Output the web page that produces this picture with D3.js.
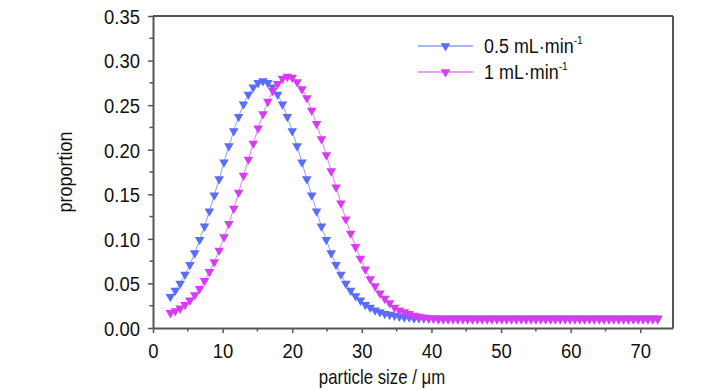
<!DOCTYPE html>
<html><head><meta charset="utf-8">
<script src="https://cdn.jsdelivr.net/npm/d3@7"></script>
<style>
html,body{margin:0;padding:0;background:#fff;}
text{font-family:"Liberation Sans",Arial,sans-serif;fill:#111;}
</style></head><body>
<svg id="c" width="728" height="390"></svg>
<script>
// particle size (µm)
const sizes = [2.5,3.2,3.9,4.6,5.3,6.0,6.7,7.4,8.1,8.8,9.5,10.2,10.9,11.6,12.3,13.0,13.7,14.4,15.1,15.8,
16.5,17.2,17.9,18.6,19.3,20.0,20.7,21.4,22.1,22.8,23.5,24.2,24.9,25.6,26.3,27.0,27.7,28.4,29.1,29.8,
30.5,31.2,31.9,32.6,33.3,34.0,34.7,35.4,36.1,36.8,37.5,38.2,38.9,39.6,40.3,41.0,41.7,42.4,43.1,43.8,
44.5,45.2,45.9,46.6,47.3,48.0,48.7,49.4,50.1,50.8,51.5,52.2,52.9,53.6,54.3,55.0,55.7,56.4,57.1,57.8,
58.5,59.2,59.9,60.6,61.3,62.0,62.7,63.4,64.1,64.8,65.5,66.2,66.9,67.6,68.3,69.0,69.7,70.4,71.1,71.8,72.5];
// 0.5 mL·min-1
const series05 = [0.035,0.042,0.050,0.060,0.071,0.084,0.099,0.114,0.131,0.149,0.167,0.186,0.204,0.221,0.237,0.251,0.262,0.270,0.275,0.277,
0.275,0.270,0.262,0.251,0.237,0.221,0.204,0.186,0.167,0.149,0.131,0.114,0.099,0.084,0.071,0.060,0.050,0.042,0.036,0.031,
0.026,0.023,0.020,0.018,0.016,0.015,0.014,0.013,0.012,0.012,0.011,0.011,0.011,0.011,0.011,0.011,0.011,0.011,0.011,0.011,
0.011,0.011,0.011,0.011,0.011,0.011,0.011,0.011,0.011,0.011,0.011,0.011,0.011,0.011,0.011,0.011,0.011,0.011,0.011,0.011,
0.011,0.011,0.011,0.011,0.011,0.011,0.011,0.011,0.011,0.011,0.011,0.011,0.011,0.011,0.011,0.011,0.011,0.011,0.011,0.011,0.011];
// 1 mL·min-1
const series1 = [0.017,0.019,0.022,0.026,0.031,0.037,0.044,0.053,0.063,0.074,0.087,0.102,0.117,0.134,0.152,0.171,0.189,0.207,0.224,0.240,
0.254,0.266,0.274,0.280,0.282,0.281,0.276,0.268,0.258,0.244,0.229,0.212,0.194,0.176,0.158,0.140,0.122,0.106,0.091,0.078,
0.066,0.055,0.047,0.039,0.033,0.028,0.023,0.020,0.018,0.016,0.014,0.013,0.012,0.011,0.011,0.010,0.010,0.010,0.010,0.010,
0.010,0.010,0.010,0.010,0.010,0.010,0.010,0.010,0.010,0.010,0.010,0.010,0.010,0.010,0.010,0.010,0.010,0.010,0.010,0.010,
0.010,0.010,0.010,0.010,0.010,0.010,0.010,0.010,0.010,0.010,0.010,0.010,0.010,0.010,0.010,0.010,0.010,0.010,0.010,0.010,0.010];
const xTicks = [0,10,20,30,40,50,60,70];
const yTicks = [0,0.05,0.10,0.15,0.20,0.25,0.30,0.35];
const seriesNames = ["0.5 mL·min","1 mL·min"];
const colors = ["#5a6ef4","#d63cf2"];
const lineColors = ["#8e9cf6","#e07cf5"];

const svg = d3.select("#c");
const L=153, T=16, R=673, B=328;
const x = d3.scaleLinear().domain([0,74.7]).range([L,R]);
const y = d3.scaleLinear().domain([0,0.35]).range([B,T]);
const axisCol="#555";

// frame top & right
svg.append("line").attr("x1",L).attr("x2",R).attr("y1",T).attr("y2",T).attr("stroke",axisCol).attr("stroke-width",2.2);
svg.append("line").attr("x1",R).attr("x2",R).attr("y1",T).attr("y2",B).attr("stroke",axisCol).attr("stroke-width",2);

// x axis
const xMinor = d3.range(5,75,10);
const gx = svg.append("g").attr("transform",`translate(0,${B})`);
gx.call(d3.axisBottom(x).tickValues(xTicks).tickSize(5).tickSizeOuter(0).tickFormat(d3.format("d")));
gx.select(".domain").attr("stroke",axisCol).attr("stroke-width",2);
gx.selectAll(".tick line").attr("stroke",axisCol).attr("stroke-width",1.5);
gx.selectAll(".tick text").attr("font-size",20.5).attr("dy",0).attr("y",30).attr("x",0)
  .attr("transform","scale(0.9,1)");
gx.selectAll(".minor").data(xMinor).enter().append("line").attr("class","minor")
  .attr("x1",d=>x(d)).attr("x2",d=>x(d)).attr("y1",0).attr("y2",3.5).attr("stroke",axisCol).attr("stroke-width",1.5);

// y axis
const yMinor = d3.range(0.025,0.35,0.05);
const gy = svg.append("g").attr("transform",`translate(${L},0)`);
gy.call(d3.axisLeft(y).tickValues(yTicks).tickSize(5).tickSizeOuter(0).tickFormat(d3.format(".2f")));
gy.select(".domain").attr("stroke",axisCol).attr("stroke-width",2);
gy.selectAll(".tick line").attr("stroke",axisCol).attr("stroke-width",1.5);
gy.selectAll(".tick text").attr("font-size",20.5).attr("x",-13/0.9).attr("dy","0.36em").attr("transform","scale(0.9,1)");
gy.selectAll(".minor").data(yMinor).enter().append("line").attr("class","minor")
  .attr("x1",0).attr("x2",-3.5).attr("y1",d=>y(d)).attr("y2",d=>y(d)).attr("stroke",axisCol).attr("stroke-width",1.5);

// axis titles
svg.append("text").attr("transform","translate(382,384) scale(0.84,1)").attr("text-anchor","middle").attr("font-size",20)
  .text("particle size / μm");
svg.append("text").attr("transform",`translate(72,${(T+B)/2}) rotate(-90) scale(0.9,1)`).attr("text-anchor","middle").attr("font-size",20)
  .text("proportion");

const tri = d3.symbol().type(d3.symbolTriangle).size(40);
const allSeries = [series05, series1];
allSeries.forEach((vals,k)=>{
  const pts = sizes.map((s,i)=>[s,vals[i]]);
  svg.append("path").datum(pts).attr("fill","none").attr("stroke",lineColors[k]).attr("stroke-width",1)
    .attr("d",d3.line().x(d=>x(d[0])).y(d=>y(d[1])));
  svg.append("g").selectAll("path").data(pts).enter().append("path")
    .attr("d",tri).attr("fill",colors[k])
    .attr("transform",d=>`translate(${x(d[0])},${y(d[1])}) rotate(180)`);
});

// legend
const lg = svg.append("g");
seriesNames.forEach((n,k)=>{
  const ly = 46 + k*26;
  lg.append("line").attr("x1",418).attr("x2",473).attr("y1",ly).attr("y2",ly).attr("stroke",lineColors[k]).attr("stroke-width",1.5);
  lg.append("path").attr("d",tri).attr("fill",colors[k]).attr("transform",`translate(445.5,${ly}) rotate(180)`);
  const t = lg.append("text").attr("transform",`translate(484,${ly+7}) scale(0.92,1)`).attr("font-size",19.5);
  t.append("tspan").text(n);
  t.append("tspan").attr("font-size",11).attr("dy",-9).text("-1");
});
</script>
</body></html>
